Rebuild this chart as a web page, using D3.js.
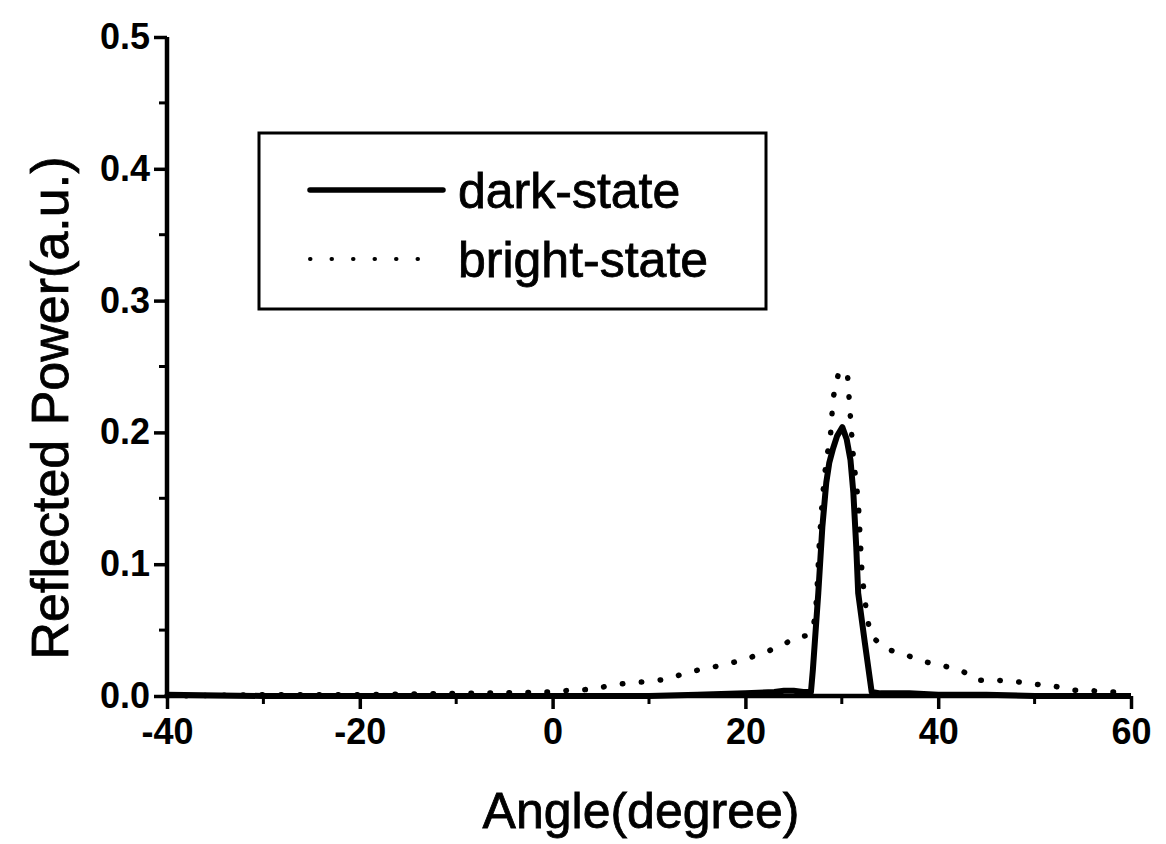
<!DOCTYPE html>
<html>
<head>
<meta charset="utf-8">
<script src="https://cdn.jsdelivr.net/npm/d3@7"></script>
<style>
  body { margin: 0; background: #fff; }
  text { font-family: "Liberation Sans", Arial, sans-serif; fill: #000; }
</style>
</head>
<body>
<div id="chart"></div>
<script>
const W = 1166, H = 844;

// x ticks, y ticks
const xTicks = [-40, -20, 0, 20, 40, 60];
const xMinor = [-30, -10, 10, 30, 50];
const yTicks = [0.0, 0.1, 0.2, 0.3, 0.4, 0.5];
const yMinor = [0.05, 0.15, 0.25, 0.35, 0.45];

// dark-state (solid) : [angle, power]
const darkAngle = [-40, -30, -20, -10, 0, 10, 15, 20, 23, 24, 25, 26, 26.8, 27.0, 27.56, 27.98, 28.39, 28.7, 29.1, 29.5, 30.05, 30.5, 30.9, 31.2, 31.5, 31.7, 32.4, 33.1, 34, 37, 40, 45, 50, 55, 60];
const darkPower = [0.001, 0.0, 0.0, 0.0, 0.0, 0.0, 0.001, 0.002, 0.003, 0.004, 0.004, 0.003, 0.003, 0.02, 0.078, 0.128, 0.162, 0.177, 0.188, 0.197, 0.204, 0.195, 0.179, 0.154, 0.113, 0.078, 0.04, 0.003, 0.002, 0.002, 0.001, 0.001, 0.0, 0.0, 0.0];

// bright-state (dotted)
const brightAngle = [-40, -30, -20, -10, 0, 2, 4, 6, 8, 10, 12, 14, 16, 18, 20, 22, 24, 25, 26.5, 27, 27.3, 27.5, 27.7, 28.0, 28.4, 28.8, 29.1, 29.6, 30.1, 30.6, 30.9, 31.2, 31.7, 32.1, 32.6, 33, 34.5, 36.7, 38.6, 40.5, 42.5, 44, 46, 48, 50, 52, 54, 56, 58, 60];
const brightPower = [0.0, 0.001, 0.001, 0.002, 0.003, 0.0045, 0.005, 0.008, 0.010, 0.011, 0.013, 0.018, 0.021, 0.024, 0.028, 0.033, 0.039, 0.044, 0.046, 0.05, 0.065, 0.09, 0.12, 0.151, 0.18, 0.195, 0.226, 0.243, 0.248, 0.243, 0.211, 0.181, 0.148, 0.092, 0.061, 0.046, 0.036, 0.031, 0.026, 0.023, 0.019, 0.012, 0.012, 0.011, 0.009, 0.0075, 0.0045, 0.004, 0.003, 0.003];

const legendNames = ["dark-state", "bright-state"];

const svg = d3.select("#chart").append("svg")
  .attr("width", W).attr("height", H);

const x = d3.scaleLinear().domain([-40, 60]).range([167, 1131]);
const y = d3.scaleLinear().domain([0, 0.5]).range([696, 37]);

const line = d3.line().x(d => x(d[0])).y(d => y(d[1]));

const dark = darkAngle.map((a, i) => [a, darkPower[i]]);
const bright = brightAngle.map((a, i) => [a, brightPower[i]]);

// curves
svg.append("path").datum(bright)
  .attr("d", line)
  .attr("fill", "none").attr("stroke", "#000")
  .attr("stroke-width", 5.5)
  .attr("stroke-linecap", "round")
  .attr("stroke-dasharray", "0.5,18.5");

svg.append("path").datum(dark)
  .attr("d", line)
  .attr("fill", "none").attr("stroke", "#000")
  .attr("stroke-width", 6)
  .attr("stroke-linejoin", "round");

// axes
const xAxis = svg.append("g")
  .attr("transform", "translate(0," + y(0) + ")")
  .call(d3.axisBottom(x).tickValues(xTicks).tickSize(13).tickPadding(8).tickFormat(d => String(d)));
xAxis.append("g").selectAll("line").data(xMinor).enter().append("line")
  .attr("x1", d => x(d)).attr("x2", d => x(d)).attr("y1", 0).attr("y2", 8)
  .attr("stroke", "#000").attr("stroke-width", 3);

const yAxis = svg.append("g")
  .attr("transform", "translate(" + x(-40) + ",0)")
  .call(d3.axisLeft(y).tickValues(yTicks).tickSize(13).tickPadding(6).tickFormat(d3.format(".1f")));
yAxis.append("g").selectAll("line").data(yMinor).enter().append("line")
  .attr("y1", d => y(d)).attr("y2", d => y(d)).attr("x1", 0).attr("x2", -8)
  .attr("stroke", "#000").attr("stroke-width", 3);

[xAxis, yAxis].forEach(g => {
  g.select(".domain").attr("stroke-width", 4.5).attr("d",
    g === xAxis ? "M" + x(-40) + ",0H" + x(60) : "M0," + y(0) + "V" + y(0.5));
  g.selectAll(".tick line").attr("stroke-width", 3.5);
  g.selectAll(".tick text")
    .style("font-family", "'Liberation Sans', Arial, sans-serif")
    .style("font-size", "36px").style("font-weight", "bold");
});
xAxis.selectAll(".tick text").attr("dy", "0.71em").attr("y", 22);
yAxis.selectAll(".tick text").attr("x", -17);

// axis titles
svg.append("text")
  .attr("x", 641).attr("y", 828)
  .attr("text-anchor", "middle")
  .style("font-size", "50px")
  .attr("stroke", "#000").attr("stroke-width", 0.8)
  .text("Angle(degree)");

svg.append("text")
  .attr("transform", "translate(68,408) rotate(-90)")
  .attr("text-anchor", "middle")
  .style("font-size", "52px")
  .attr("stroke", "#000").attr("stroke-width", 0.8)
  .text("Reflected Power(a.u.)");

// legend
const leg = svg.append("g");
leg.append("rect")
  .attr("x", 259).attr("y", 133).attr("width", 507).attr("height", 176)
  .attr("fill", "#fff").attr("stroke", "#000").attr("stroke-width", 3);

const rows = [
  { name: legendNames[0], y: 190, dash: null, w: 5.5 },
  { name: legendNames[1], y: 259, dash: "0.5,21", w: 4 }
];
rows.forEach(r => {
  leg.append("line")
    .attr("x1", 310).attr("x2", r.dash ? 430 : 443)
    .attr("y1", r.y).attr("y2", r.y)
    .attr("stroke", "#000").attr("stroke-width", r.w)
    .attr("stroke-linecap", "round")
    .attr("stroke-dasharray", r.dash);
  leg.append("text")
    .attr("x", 458).attr("y", r.y + 18)
    .style("font-size", "50px")
    .attr("stroke", "#000").attr("stroke-width", 0.8)
    .text(r.name);
});
</script>
</body>
</html>
